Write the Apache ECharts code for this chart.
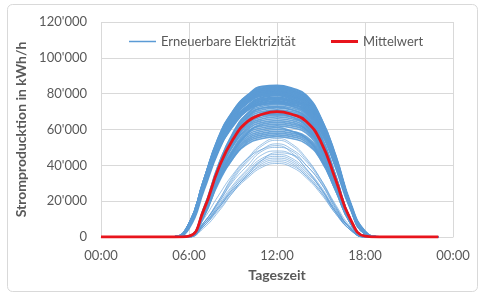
<!DOCTYPE html>
<html>
<head>
<meta charset="utf-8">
<script src="https://cdn.jsdelivr.net/npm/echarts@6/dist/echarts.min.js"></script>
<style>
    html, body { margin: 0; padding: 0; background: #fff; }
    #chartDiv { width: 485px; height: 295px; }
</style>
</head>
<body>
<div id="chartDiv"></div>
<script>
    // Stunden des Tages (x-Werte)
    var stunden = [0, 1, 2, 3, 4, 5, 6, 7, 8, 9, 10, 11, 12, 13, 14, 15, 16, 17, 18, 19, 20, 21, 22, 23];
    var zeitLabels = ['00:00', '06:00', '12:00', '18:00', '00:00'];

    // Mittelwert in 1'000 kWh/h
    var mittelwert = [0, 0, 0, 0, 0, 0, 0.5, 15, 38, 54.5, 64.5, 68.5, 70, 68.5, 64.5, 53, 32, 10, 0.5, 0, 0, 0, 0, 0];

    // einzelne Tage, Erneuerbare Elektrizität in 1'000 kWh/h (Stunde 0 bis 23)
    var sommertage = [
        [0,0,0,0,0, 0,7,31,55,70,79,84,84.5,83,79,66,45,19,3, 0,0,0,0,0],
        [0,0,0,0,0, 0,7,31,55,70,79,83,84,82,78,66,45,18,3, 0,0,0,0,0],
        [0,0,0,0,0, 0,7,31,54,69,78,83,83.5,82,78,65,44,18,3, 0,0,0,0,0],
        [0,0,0,0,0, 0,7,31,54,69,78,82,83,81,77,65,44,18,2, 0,0,0,0,0],
        [0,0,0,0,0, 0,7,31,54,68,78,82,82.5,81,77,64,44,18,2, 0,0,0,0,0],
        [0,0,0,0,0, 0,7,30,53,68,77,81,82,80,76,64,43,18,2, 0,0,0,0,0],
        [0,0,0,0,0, 0,7,30,53,68,77,81,81.5,79,74,60,39,16,2, 0,0,0,0,0],
        [0,0,0,0,0, 0,6,30,53,67,76,80,81,79,75,63,43,18,2, 0,0,0,0,0],
        [0,0,0,0,0, 0,6,30,52,67,76,80,80.5,79,75,63,43,18,2, 0,0,0,0,0],
        [0,0,0,0,0, 0,6,30,52,66,75,79,80,78,74,62,42,18,2, 0,0,0,0,0],
        [0,0,0,0,0, 0,6,29,52,66,75,79,79.5,78,74,62,42,17,2, 0,0,0,0,0],
        [0,0,0,0,0, 0,5,26,48,63,73,78,79,77,73,62,42,17,2, 0,0,0,0,0],
        [0,0,0,0,0, 0,6,29,51,65,73,77,78,76,73,61,41,17,2, 0,0,0,0,0],
        [0,0,0,0,0, 0,6,29,50,64,73,77,77.5,76,72,60,41,17,2, 0,0,0,0,0],
        [0,0,0,0,0, 0,6,28,50,64,72,76,77,75,72,60,41,17,2, 0,0,0,0,0],
        [0,0,0,0,0, 0,6,28,49,63,71,75,76,74,71,59,40,17,2, 0,0,0,0,0],
        [0,0,0,0,0, 0,6,28,49,62,71,74,75,74,70,59,40,17,2, 0,0,0,0,0]
    ];
    var uebergangstage = [
        [0,0,0,0,0, 0,0.5,16,40,58,69,74,74.5,73,69,57,34,10,0.5, 0,0,0,0,0],
        [0,0,0,0,0, 0,0.5,16,40,58,69,73,74,73,69,56,34,10,0.5, 0,0,0,0,0],
        [0,0,0,0,0, 0,0.5,15,39,57,68,72,73,72,68,55,34,10,0.5, 0,0,0,0,0],
        [0,0,0,0,0, 0,0.5,15,39,57,67,72,72.5,71,67,55,33,10,0.5, 0,0,0,0,0],
        [0,0,0,0,0, 0,0.5,15,39,56,67,71,72,71,67,55,33,10,0.5, 0,0,0,0,0],
        [0,0,0,0,0, 0,0.5,15,38,55,66,70,71,70,66,54,33,10,0.5, 0,0,0,0,0],
        [0,0,0,0,0, 0,0.5,13,35,52,64,69,70.5,69,66,54,32,10,0.5, 0,0,0,0,0],
        [0,0,0,0,0, 0,0.5,15,38,55,65,69,70,69,65,53,32,10,0.5, 0,0,0,0,0],
        [0,0,0,0,0, 0,0.5,14,37,54,64,68,69,68,64,52,32,10,0.5, 0,0,0,0,0],
        [0,0,0,0,0, 0,0.5,14,37,53,64,68,68.5,67,62,49,29,9,0.5, 0,0,0,0,0],
        [0,0,0,0,0, 0,0.5,14,37,53,63,67,68,67,63,52,31,10,0.5, 0,0,0,0,0],
        [0,0,0,0,0, 0,0.5,14,36,52,62,66,67,66,62,51,31,9,0.5, 0,0,0,0,0],
        [0,0,0,0,0, 0,0.5,14,36,51,61,65,66,65,61,50,30,9,0.5, 0,0,0,0,0],
        [0,0,0,0,0, 0,0.5,14,35,51,60,64,65,64,60,49,30,9,0.5, 0,0,0,0,0],
        [0,0,0,0,0, 0,0.5,11,31,47,58,63,64,63,60,49,29,9,0.5, 0,0,0,0,0],
        [0,0,0,0,0, 0,0.5,13,34,49,59,62,63,62,59,48,29,9,0.5, 0,0,0,0,0],
        [0,0,0,0,0, 0,0.5,13,33,48,58,61,62,61,58,47,29,9,0.5, 0,0,0,0,0],
        [0,0,0,0,0, 0,0.5,13,33,48,57,60,61,59,55,44,26,8,0.5, 0,0,0,0,0],
        [0,0,0,0,0, 0,0.5,13,32,47,56,59,60,59,56,46,28,8,0.5, 0,0,0,0,0],
        [0,0,0,0,0, 0,0.5,12,32,46,55,58,59,58,55,45,27,8,0.5, 0,0,0,0,0],
        [0,0,0,0,0, 0,0.5,12,31,45,54,57,58,57,54,44,27,8,0.5, 0,0,0,0,0],
        [0,0,0,0,0, 0,0.5,12,31,44,53,56,57,56,53,43,26,8,0.5, 0,0,0,0,0],
        [0,0,0,0,0, 0,0.5,12,30,44,52,55,56,55,52,43,26,8,0.5, 0,0,0,0,0]
    ];
    var wintertage = [
        [0,0,0,0,0, 0,0,8,20,34,44,52,55,52,44,32,18,6,0, 0,0,0,0,0],
        [0,0,0,0,0, 0,0,8,20,33,43,51,54,51,43,32,17,5,0, 0,0,0,0,0],
        [0,0,0,0,0, 0,0,8,19,32,42,49,52,49,42,31,17,5,0, 0,0,0,0,0],
        [0,0,0,0,0, 0,0,10,23,35,44,49,51,47,38,27,14,4,0, 0,0,0,0,0],
        [0,0,0,0,0, 0,0,8,19,31,40,48,50,48,40,30,16,5,0, 0,0,0,0,0],
        [0,0,0,0,0, 0,0,7,18,29,38,46,48,46,38,28,15,5,0, 0,0,0,0,0],
        [0,0,0,0,0, 0,0,5,14,25,35,43,47,46,40,30,16,5,0, 0,0,0,0,0],
        [0,0,0,0,0, 0,0,7,17,28,37,44,46,44,37,27,15,5,0, 0,0,0,0,0],
        [0,0,0,0,0, 0,0,7,17,27,36,43,45,43,36,27,14,5,0, 0,0,0,0,0],
        [0,0,0,0,0, 0,0,7,16,27,35,42,44,42,35,26,14,4,0, 0,0,0,0,0],
        [0,0,0,0,0, 0,0,6,16,26,34,41,43,41,34,25,14,4,0, 0,0,0,0,0],
        [0,0,0,0,0, 0,0,6,16,26,34,40,42,40,34,25,13,4,0, 0,0,0,0,0],
        [0,0,0,0,0, 0,0,6,15,25,33,39,41,39,33,24,13,4,0, 0,0,0,0,0]
    ];

    var blau = '#5b9bd5';
    var rot = '#e8141c';
    var grau = '#595959';
    var schrift = 'Lato, "Liberation Sans", sans-serif';

    function paare(werte) {
        return stunden.map(function (h, i) { return [h, werte[i]]; });
    }

    function tagesSerien(tage, breite, deckkraft) {
        return tage.map(function (tag) {
            return {
                name: 'Erneuerbare Elektrizität',
                type: 'line',
                data: paare(tag),
                smooth: 0.5,
                symbol: 'none',
                z: 2,
                itemStyle: { color: blau },
                lineStyle: { color: blau, width: breite, opacity: deckkraft }
            };
        });
    }

    var serien = [].concat(
        tagesSerien(wintertage, 1, 0.6),
        tagesSerien(uebergangstage, 1.7, 0.9),
        tagesSerien(sommertage, 2.2, 1)
    );
    serien.push({
        name: 'Mittelwert',
        type: 'line',
        data: paare(mittelwert),
        smooth: 0.5,
        symbol: 'none',
        z: 3,
        itemStyle: { color: rot },
        lineStyle: { color: rot, width: 2.8 }
    });

    var chart = echarts.init(document.getElementById('chartDiv'));
    chart.setOption({
        animation: false,
        backgroundColor: '#fff',
        textStyle: { fontFamily: schrift },
        graphic: [{
            type: 'rect',
            shape: { x: 7.5, y: 4.5, width: 470, height: 287, r: 5 },
            style: { fill: 'none', stroke: '#d9d9d9', lineWidth: 1 },
            silent: true
        }],
        grid: { left: 101, right: 32, top: 22, bottom: 58 },
        legend: [{
            data: [{ name: 'Erneuerbare Elektrizität', icon: 'rect' }],
            left: 124, top: 30, itemWidth: 27, itemHeight: 1.5, itemGap: 4,
            textStyle: { color: grau, fontSize: 13, fontFamily: schrift }
        }, {
            data: [{ name: 'Mittelwert', icon: 'rect' }],
            left: 326, top: 30, itemWidth: 27, itemHeight: 3, itemGap: 4,
            textStyle: { color: grau, fontSize: 13, fontFamily: schrift }
        }],
        xAxis: {
            type: 'value', min: 0, max: 24, interval: 6,
            name: 'Tageszeit', nameLocation: 'middle', nameGap: 31,
            nameTextStyle: { color: grau, fontSize: 14, fontWeight: 'bold', fontFamily: schrift },
            axisLabel: {
                color: grau, fontSize: 13, margin: 12, fontFamily: schrift,
                formatter: function (v) { return zeitLabels[v / 6]; }
            },
            axisLine: { lineStyle: { color: '#d9d9d9' } },
            axisTick: { show: false },
            splitLine: { show: true, lineStyle: { color: '#d9d9d9' } }
        },
        yAxis: {
            type: 'value', min: 0, max: 120, interval: 20,
            name: 'Stromproducktion in kWh/h', nameLocation: 'middle', nameGap: 53,
            nameTextStyle: { color: grau, fontSize: 14, fontWeight: 'bold', fontFamily: schrift },
            axisLabel: {
                color: grau, fontSize: 13, margin: 14, fontFamily: schrift,
                formatter: function (v) { return v === 0 ? '0' : v + "'000"; }
            },
            axisLine: { show: false },
            axisTick: { show: false },
            splitLine: { lineStyle: { color: '#d9d9d9' } }
        },
        series: serien
    });
</script>
</body>
</html>
